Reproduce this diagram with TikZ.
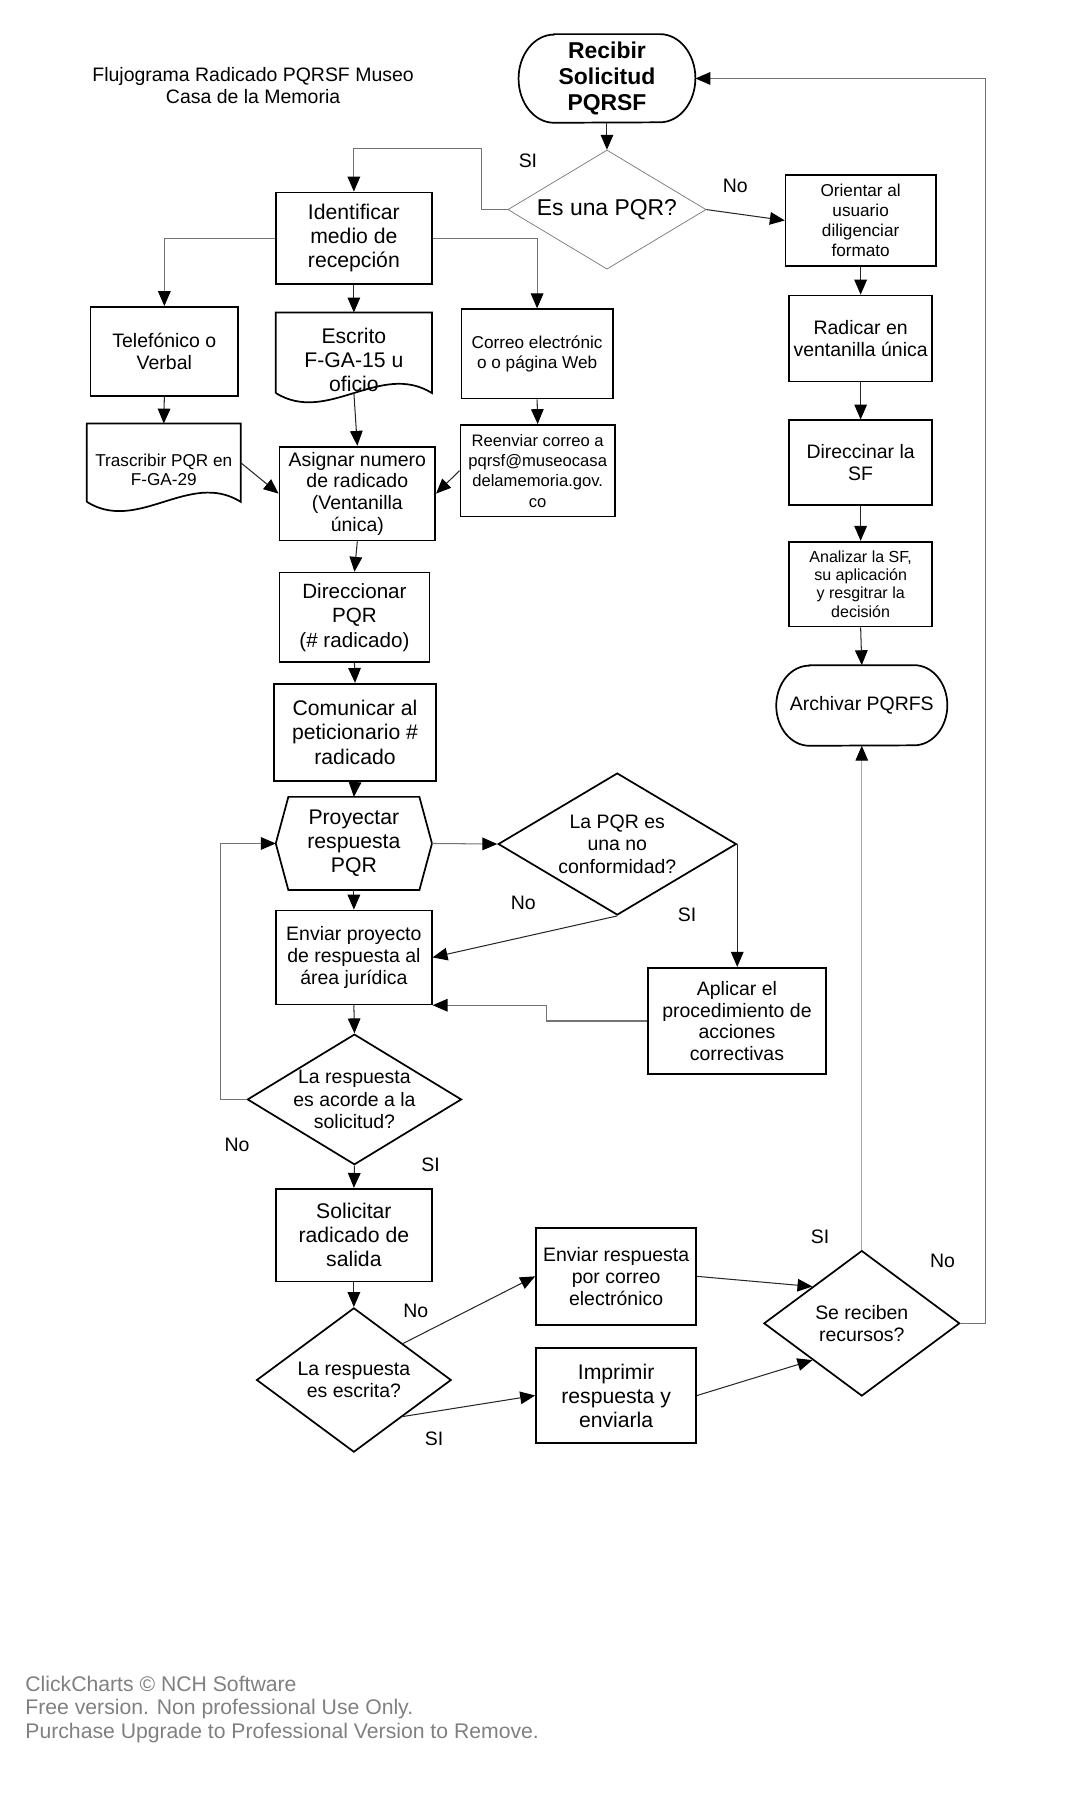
\documentclass[tikz,border=0pt]{standalone}
\usepackage{fontspec}
\setmainfont{Liberation Sans}
\usetikzlibrary{arrows.meta,shapes.geometric,calc}
\newcommand{\fz}[2]{\fontsize{#1pt}{#2pt}\selectfont}
\tikzset{
 box/.style={draw=black, line width=1.5pt, rectangle, align=center, inner sep=0pt},
 shp/.style={draw=black, line width=1.5pt},
 hid/.style={rectangle, inner sep=0pt, align=center},
 dia/.style={diamond, draw=black, line width=1.5pt, inner sep=0pt},
 conn/.style={draw=black!85, line width=0.9pt, -{Triangle[length=13pt,width=11pt,color=black]}},
 gconn/.style={draw=black!55, line width=0.9pt, -{Triangle[length=13pt,width=11pt,color=black]}},
 lbl/.style={font=\fz{17}{20}},
 fb/.style={font=\fz{18.5}{21}},
 fm/.style={font=\fz{17}{19.5}},
 fs/.style={font=\fz{15}{17.5}},
}
\begin{document}
\begin{tikzpicture}[x=1pt,y=-1pt]
\useasboundingbox (0,0) rectangle (950,1566.5);

% title
\node[font=\fz{17}{19}, align=center] (title) at (221,74.5) {Flujograma Radicado PQRSF Museo\\Casa de la Memoria};

% right column
\node[hid, minimum width=154, minimum height=77, font=\bfseries\fz{20}{23}] (recibir) at (530,68.5) {Recibir\\Solicitud\\PQRSF};
\draw[shp] ([xshift=31pt]recibir.north west) -- ([xshift=-31pt]recibir.north east)
  arc[start angle=90, end angle=-90, x radius=31pt, y radius=38.5pt]
  -- ([xshift=31pt]recibir.south west)
  arc[start angle=270, end angle=90, x radius=31pt, y radius=38.5pt] -- cycle;

\node[dia, draw=black!55, line width=0.6pt, minimum width=173, minimum height=104,
  label={[font=\fz{20}{23}]center:{Es una PQR?}}] (q1) at (530,183) {};

\node[box, fs, minimum width=131, minimum height=79] (orientar) at (751.5,192.5) {Orientar al\\usuario\\diligenciar\\formato};
\node[box, fm, minimum width=125, minimum height=75] (radicar) at (751.5,295.5) {Radicar en\\ventanilla única};
\node[box, fm, minimum width=125, minimum height=74] (direccinar) at (751.5,404) {Direccinar la\\SF};
\node[box, font=\fz{14}{16}, minimum width=125, minimum height=74] (analizar) at (751.5,510) {Analizar la SF,\\su aplicación\\y resgitrar la\\decisión};
\node[hid, fm, minimum width=149, minimum height=70] (archivar) at (752.5,616) {Archivar PQRFS};
\draw[shp] ([xshift=29pt]archivar.north west) -- ([xshift=-29pt]archivar.north east)
  arc[start angle=90, end angle=-90, x radius=29pt, y radius=35pt]
  -- ([xshift=29pt]archivar.south west)
  arc[start angle=270, end angle=90, x radius=29pt, y radius=35pt] -- cycle;

% reception branch
\node[box, fb, minimum width=136, minimum height=80] (identificar) at (309,208) {Identificar\\medio de\\recepción};
\node[box, fm, minimum width=129, minimum height=78] (telefonico) at (143.5,307) {Telefónico o\\Verbal};
\node[hid, minimum width=136, minimum height=70,
  label={[fb, align=center, yshift=-6pt]center:{Escrito\\F-GA-15 u\\oficio}}] (escrito) at (309,308) {};
\draw[shp] (escrito.south west) -- (escrito.north west) -- (escrito.north east) -- (escrito.south east)
  .. controls +(-45.3,-28) and +(45.3,28) .. (escrito.south west);
\node[box, fs, minimum width=132, minimum height=78] (correo) at (469,309) {Correo electrónic\\o o página Web};
\node[hid, minimum width=134, minimum height=68,
  label={[font=\fz{15}{17}, align=center, yshift=-6.5pt]center:{Trascribir PQR en\\F-GA-29}}] (trascribir) at (143,404) {};
\draw[shp] (trascribir.south west) -- (trascribir.north west) -- (trascribir.north east) -- (trascribir.south east)
  .. controls +(-44.7,-28) and +(44.7,28) .. (trascribir.south west);
\node[box, font=\fz{14.5}{17.7}, minimum width=135, minimum height=80] (reenviar) at (469.5,411) {Reenviar correo a\\pqrsf@museocasa\\delamemoria.gov.\\co};

% main column
\node[box, font=\fz{17}{19}, minimum width=136, minimum height=82] (asignar) at (312,431) {Asignar numero\\de radicado\\(Ventanilla\\única)};
\node[box, font=\fz{18}{21.5}, minimum width=131, minimum height=78] (direccionar) at (309.5,539) {Direccionar\\PQR\\(\# radicado)};
\node[box, fb, minimum width=142, minimum height=85] (comunicar) at (310,639.5) {Comunicar al\\peticionario \#\\radicado};
\node[hid, fb, minimum width=136, minimum height=81] (proyectar) at (309,736.5) {Proyectar\\respuesta\\PQR};
\draw[shp] ([xshift=11pt]proyectar.north west) -- ([xshift=-11pt]proyectar.north east) -- (proyectar.east)
  -- ([xshift=-11pt]proyectar.south east) -- ([xshift=11pt]proyectar.south west) -- (proyectar.west) -- cycle;
\node[dia, minimum width=208, minimum height=124,
  label={[fm, align=center]center:{La PQR es\\una no\\conformidad?}}] (q2) at (539,737) {};
\node[box, fm, minimum width=136, minimum height=82] (enviar) at (309,836) {Enviar proyecto\\de respuesta al\\área jurídica};
\node[box, font=\fz{17}{19}, minimum width=155, minimum height=93] (aplicar) at (643.5,891.5) {Aplicar el\\procedimiento de\\acciones\\correctivas};
\node[dia, minimum width=187, minimum height=114,
  label={[fm, align=center]center:{La respuesta\\es acorde a la\\solicitud?}}] (q3) at (309.5,960) {};
\node[box, fb, minimum width=136, minimum height=81] (solicitar) at (309,1078.5) {Solicitar\\radicado de\\salida};
\node[dia, minimum width=170, minimum height=126,
  label={[fm, align=center]center:{La respuesta\\es escrita?}}] (q4) at (309,1205) {};
\node[box, fm, minimum width=140, minimum height=85] (envresp) at (538,1114.5) {Enviar respuesta\\por correo\\electrónico};
\node[box, fb, minimum width=140, minimum height=83] (imprimir) at (538,1218.5) {Imprimir\\respuesta y\\enviarla};
\node[dia, minimum width=171, minimum height=127,
  label={[fm, align=center]center:{Se reciben\\recursos?}}] (q5) at (752.5,1155.5) {};

% labels
\node[lbl] (l1) at (461,140) {SI};
\node[lbl] (l2) at (642,162) {No};
\node[lbl] (l3) at (600,799) {SI};
\node[lbl] (l4) at (457,788) {No};
\node[lbl] (l5) at (207,1000) {No};
\node[lbl] (l6) at (376,1017) {SI};
\node[lbl] (l7) at (363,1145) {No};
\node[lbl] (l8) at (379,1256) {SI};
\node[lbl] (l9) at (716,1080) {SI};
\node[lbl] (l10) at (823,1101) {No};

% watermark
\node[font=\fz{18.5}{20.5}, align=left, anchor=west, inner sep=0pt, text=black!50] (wm) at (22,1492.5)
  {ClickCharts © NCH Software\\Free version. Non professional Use Only.\\Purchase Upgrade to Professional Version to Remove.};

% connectors
\draw[conn] (recibir.south) -- (q1.north);
\draw[gconn] (q1.west) -- ++(-23,0) -- ++(0,-53) -| (identificar.north);
\draw[conn] (q1.east) -- (orientar.west);
\draw[conn] (orientar.south) -- (radicar.north);
\draw[conn] (radicar.south) -- (direccinar.north);
\draw[conn] (direccinar.south) -- (analizar.north);
\draw[conn] (analizar.south) -- (archivar.north);
\draw[gconn, draw=black!35] (q5.north) -- (archivar.south);
\draw[gconn] (q5.east) -- ++(22,0) |- (recibir.east);

\draw[gconn] (identificar.west) -| (telefonico.north);
\draw[gconn] (identificar.east) -| (correo.north);
\draw[conn] (identificar.south) -- (escrito.north);
\draw[conn] (telefonico.south) -- (trascribir.north);
\draw[conn] (escrito.south) -- (asignar.north);
\draw[conn] (correo.south) -- (reenviar.north);
\draw[conn] (trascribir.east) -- (asignar.west);
\draw[conn] (reenviar.west) -- (asignar.east);

\draw[conn] (asignar.south) -- (direccionar.north);
\draw[conn] (direccionar.south) -- (comunicar.north);
\draw[conn] (comunicar.south) -- (proyectar.north);
\draw[gconn] (proyectar.east) -- (q2.west);
\draw[conn] (proyectar.south) -- (enviar.north);
\draw[conn] (q2.south) -- (enviar.east);
\draw[conn] (q2.east) -- (q2.east |- aplicar.north);
\draw[gconn] (aplicar.west) -- ++(-88,0) |- (enviar.south east);
\draw[conn] (enviar.south) -- (q3.north);
\draw[gconn] (q3.west) -- ++(-23,0) |- (proyectar.west);
\draw[conn] (q3.south) -- (solicitar.north);
\draw[conn] (solicitar.south) -- (q4.north);
\draw[conn] (q4.north east) -- (envresp.west);
\draw[conn] (q4.south east) -- (imprimir.west);
\draw[conn] (envresp.east) -- (q5.north west);
\draw[conn] (imprimir.east) -- (q5.south west);
\end{tikzpicture}
\end{document}
